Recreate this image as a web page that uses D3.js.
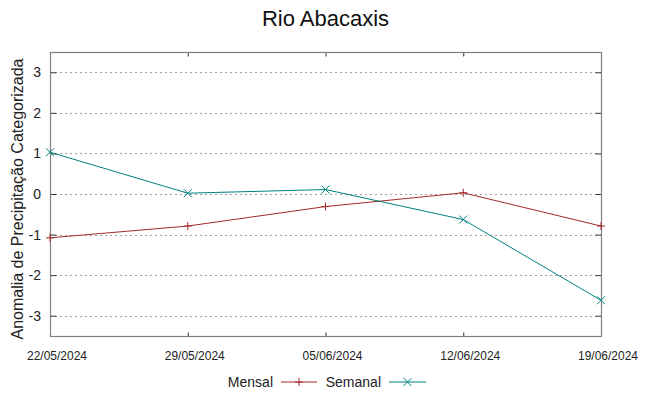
<!DOCTYPE html>
<html>
<head>
<meta charset="utf-8">
<script src="https://cdn.jsdelivr.net/npm/d3@7"></script>
<style>
  body { margin: 0; background: #fff; }
  svg { font-family: "Liberation Sans", Arial, sans-serif; }
</style>
</head>
<body>
<div id="chart"></div>
<script>
// chart data
const dates = ['22/05/2024', '29/05/2024', '05/06/2024', '12/06/2024', '19/06/2024'];
const mensal = [-1.08, -0.79, -0.31, 0.03, -0.79];
const semanal = [1.03, 0.02, 0.11, -0.63, -2.62];
const yTicks = [-3, -2, -1, 0, 1, 2, 3];

const width = 649, height = 396;
const margin = { left: 50, right: 48, top: 52, bottom: 60 };

const svg = d3.select('#chart').append('svg')
    .attr('width', width)
    .attr('height', height);

const x = d3.scalePoint()
    .domain(dates)
    .range([margin.left, width - margin.right]);

const y = d3.scaleLinear()
    .domain([-3.5, 3.5])
    .range([height - margin.bottom, margin.top]);

const x0 = margin.left, x1 = width - margin.right;
const y0 = margin.top, y1 = height - margin.bottom;

// horizontal grid lines
svg.append('g')
    .selectAll('line')
    .data(yTicks)
    .join('line')
    .attr('x1', x0)
    .attr('x2', x1)
    .attr('y1', d => Math.round(y(d)) + 0.5)
    .attr('y2', d => Math.round(y(d)) + 0.5)
    .attr('stroke', '#a0a0a0')
    .attr('stroke-width', 1)
    .attr('stroke-dasharray', '2,3');

// left axis (ticks inside)
const yAxisL = svg.append('g')
    .attr('transform', `translate(${x0 + 0.5},0)`)
    .call(d3.axisRight(y).tickValues(yTicks).tickSize(6).tickFormat(''));
yAxisL.select('.domain').remove();

const yAxisR = svg.append('g')
    .attr('transform', `translate(${x1 + 0.5},0)`)
    .call(d3.axisLeft(y).tickValues(yTicks).tickSize(6).tickFormat(''));
yAxisR.select('.domain').remove();

// y tick labels
svg.append('g')
    .selectAll('text')
    .data(yTicks)
    .join('text')
    .attr('x', x0 - 9)
    .attr('y', d => y(d))
    .attr('dy', '0.36em')
    .attr('text-anchor', 'end')
    .attr('font-size', 14)
    .attr('fill', '#222')
    .text(d => d);

// x axes (small inward ticks)
const xAxisB = svg.append('g')
    .attr('transform', `translate(0,${y1 + 0.5})`)
    .call(d3.axisTop(x).tickSize(4).tickFormat(''));
xAxisB.select('.domain').remove();

const xAxisT = svg.append('g')
    .attr('transform', `translate(0,${y0 + 0.5})`)
    .call(d3.axisBottom(x).tickSize(4).tickFormat(''));
xAxisT.select('.domain').remove();

svg.selectAll('.tick line').attr('stroke', '#333');

// x tick labels (gnuplot puts them a bit right of the tick)
svg.append('g')
    .selectAll('text')
    .data(dates)
    .join('text')
    .attr('x', d => x(d) + 7)
    .attr('y', y1 + 24)
    .attr('text-anchor', 'middle')
    .attr('font-size', 12)
    .attr('fill', '#222')
    .text(d => d);

// border
svg.append('rect')
    .attr('x', x0 + 0.5)
    .attr('y', y0 + 0.5)
    .attr('width', x1 - x0)
    .attr('height', y1 - y0)
    .attr('fill', 'none')
    .attr('stroke', '#808080')
    .attr('stroke-width', 1.2);

const line = d3.line()
    .x((d, i) => x(dates[i]))
    .y(d => y(d));

const series = [
    { name: 'Mensal', values: mensal, color: '#a52a2a', marker: 'plus' },
    { name: 'Semanal', values: semanal, color: '#008080', marker: 'cross' }
];

function drawMarker(g, cx, cy, type, color) {
    const s = 4;
    if (type === 'plus') {
        g.append('path')
            .attr('d', `M${cx - s},${cy}H${cx + s}M${cx},${cy - s}V${cy + s}`)
            .attr('stroke', color).attr('stroke-width', 1);
    } else {
        g.append('path')
            .attr('d', `M${cx - s},${cy - s}L${cx + s},${cy + s}M${cx - s},${cy + s}L${cx + s},${cy - s}`)
            .attr('stroke', color).attr('stroke-width', 1);
    }
}

series.forEach(s => {
    svg.append('path')
        .datum(s.values)
        .attr('fill', 'none')
        .attr('stroke', s.color)
        .attr('stroke-width', 1)
        .attr('d', line);
    const mg = svg.append('g');
    s.values.forEach((v, i) => drawMarker(mg, x(dates[i]), y(v), s.marker, s.color));
});

// title
svg.append('text')
    .attr('x', (x0 + x1) / 2)
    .attr('y', 26)
    .attr('text-anchor', 'middle')
    .attr('font-size', 22)
    .attr('fill', '#111')
    .text('Rio Abacaxis');

// y label
svg.append('text')
    .attr('transform', `translate(23,${(y0 + y1) / 2 + 5}) rotate(-90)`)
    .attr('text-anchor', 'middle')
    .attr('font-size', 16)
    .attr('fill', '#222')
    .text('Anomalia de Precipitação Categorizada');

// legend
const legendY = 382;
const legend = [
    { name: 'Mensal', textEnd: 273, lineStart: 281, lineEnd: 317, color: '#a52a2a', marker: 'plus' },
    { name: 'Semanal', textEnd: 381, lineStart: 389, lineEnd: 426, color: '#008080', marker: 'cross' }
];
legend.forEach(l => {
    svg.append('text')
        .attr('x', l.textEnd)
        .attr('y', legendY)
        .attr('dy', '0.36em')
        .attr('text-anchor', 'end')
        .attr('font-size', 14)
        .attr('fill', '#222')
        .text(l.name);
    svg.append('line')
        .attr('x1', l.lineStart).attr('x2', l.lineEnd)
        .attr('y1', legendY).attr('y2', legendY)
        .attr('stroke', l.color).attr('stroke-width', 1);
    drawMarker(svg.append('g'), (l.lineStart + l.lineEnd) / 2, legendY, l.marker, l.color);
});
</script>
</body>
</html>
